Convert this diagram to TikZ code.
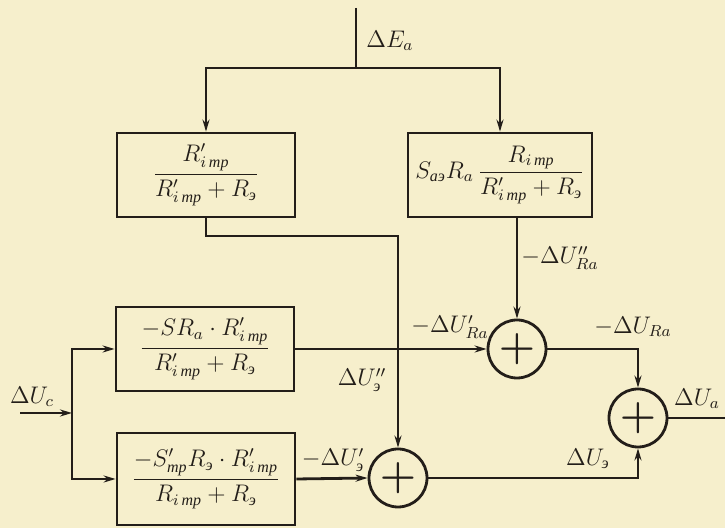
\documentclass[tikz,border=0pt]{standalone}
\usepackage{amsmath}
\usepackage{fontspec}
\setmainfont{Liberation Serif}
\usetikzlibrary{arrows.meta, calc}
\definecolor{paper}{RGB}{246,239,204}
\definecolor{ink}{RGB}{35,30,25}
\newcommand{\cy}[1]{\text{\itshape #1}}
\newcommand{\itr}{i\,\cy{тр}}

\begin{document}
\begin{tikzpicture}[
  x=0.5pt, y=-0.5pt, line width=1.4pt, color=ink,
  block/.style={draw, minimum width=89pt, minimum height=42pt, align=center, inner sep=1pt, font=\large},
  summer/.style={draw, circle, minimum size=29pt, inner sep=0pt, font=\huge\boldmath},
  lbl/.style={inner sep=1pt, font=\large},
  arr/.style={-{Stealth[length=6pt, width=3.5pt]}}
]
\fill[paper] (0,0) rectangle (725,528);
\useasboundingbox (0,0) rectangle (725,528);

% blocks
\node[block] (lbox) at (206,175) {$\dfrac{R'_{\itr}}{R'_{\itr}+R_{\cy{э}}}$};
\node[block, minimum width=92pt] (rbox) at (500,175) {$S_{\cy{аэ}}R_a\,\dfrac{R_{\itr}}{R'_{\itr}+R_{\cy{э}}}$};
\node[block] (mbox) at (205,349) {$\dfrac{-SR_a\cdot R'_{\itr}}{R'_{\itr}+R_{\cy{э}}}$};
\node[block, minimum height=46pt] (bbox) at (206,479) {$\dfrac{-S'_{\cy{тр}}R_{\cy{э}}\cdot R'_{\itr}}{R_{\itr}+R_{\cy{э}}}$};

% summing points
\node[summer] (sumA) at (517,349) {$+$};
\node[summer] (sumB) at (398,478) {$+$};
\node[summer] (sumC) at (638,418) {$+$};

% free ends
\coordinate (ein) at (356,8);
\coordinate (split) at (356,68);
\coordinate (ucin) at (20,413);
\coordinate (fork) at (72,413);
\coordinate (bend) at (398,236);
\coordinate (uaout) at (725,418);

% connectors
\draw (ein) -- (split);
\draw[arr] (split) -| (lbox.north);
\draw[arr] (split) -| (rbox.north);
\draw[arr] (rbox.south -| sumA.north) -- (sumA.north);
\draw[arr] (lbox.south) |- (bend) -- (sumB.north);
\draw[arr] (ucin) -- (fork);
\draw[arr] (fork) |- (mbox.west);
\draw[arr] (fork) |- (bbox.west);
\draw[arr] (mbox.east) -- (sumA.west);
\draw[arr] (bbox.east) -- (sumB.west);
\draw[arr] (sumA.east) -| (sumC.north);
\draw[arr] (sumB.east) -| (sumC.south);
\draw (sumC.east) -- (uaout);

% signal labels
\node[lbl] (lEa) at (390,41) {$\Delta E_a$};
\node[lbl] (lUc) at (32,397) {$\Delta U_c$};
\node[lbl] (lURa2) at (560,258) {$-\Delta U''_{Ra}$};
\node[lbl] (lURa1) at (450,327) {$-\Delta U'_{Ra}$};
\node[lbl] (lURa) at (633,327) {$-\Delta U_{Ra}$};
\node[lbl] (lUe2) at (362,380) {$\Delta U''_{\cy{э}}$};
\node[lbl] (lUe1) at (333,460) {$-\Delta U'_{\cy{э}}$};
\node[lbl] (lUe) at (588,459) {$\Delta U_{\cy{э}}$};
\node[lbl] (lUa) at (697,399) {$\Delta U_a$};
\end{tikzpicture}
\end{document}
